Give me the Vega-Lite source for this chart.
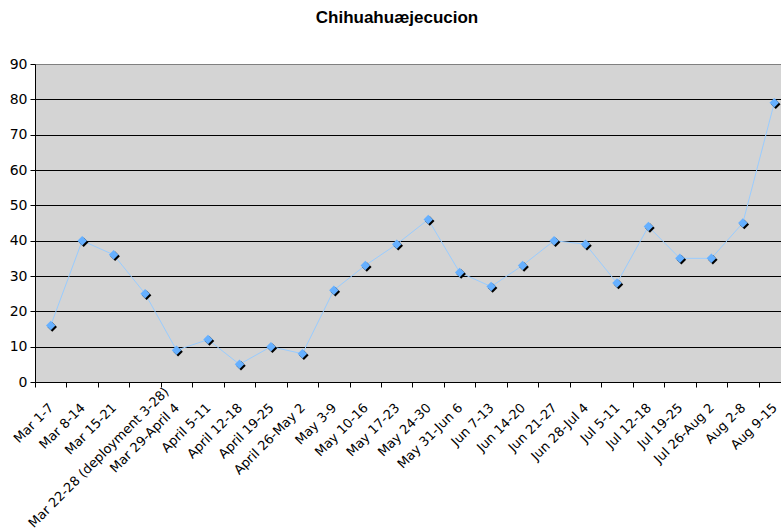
{
  "$schema": "https://vega.github.io/schema/vega-lite/v6.json",
  "width": 746,
  "height": 318,
  "autosize": {"type": "none"},
  "padding": {"left": 35, "top": 64, "right": 0, "bottom": 149},
  "background": "white",
  "title": {"text": "Chihuahuæjecucion", "font": "Liberation Sans", "fontSize": 17, "fontWeight": "bold", "baseline": "alphabetic", "frame": "group", "anchor": "middle", "offset": 17, "dx": -11, "color": "black"},
  "config": {"view": {"fill": "#d4d4d4", "stroke": null}},
  "data": {"values": [
    {"week": "Mar 1-7", "value": 16},
    {"week": "Mar 8-14", "value": 40},
    {"week": "Mar 15-21", "value": 36},
    {"week": "Mar 22-28 (deployment 3-28)", "value": 25},
    {"week": "Mar 29-April 4", "value": 9},
    {"week": "April 5-11", "value": 12},
    {"week": "April 12-18", "value": 5},
    {"week": "April 19-25", "value": 10},
    {"week": "April 26-May 2", "value": 8},
    {"week": "May 3-9", "value": 26},
    {"week": "May 10-16", "value": 33},
    {"week": "May 17-23", "value": 39},
    {"week": "May 24-30", "value": 46},
    {"week": "May 31-Jun 6", "value": 31},
    {"week": "Jun 7-13", "value": 27},
    {"week": "Jun 14-20", "value": 33},
    {"week": "Jun 21-27", "value": 40},
    {"week": "Jun 28-Jul 4", "value": 39},
    {"week": "Jul 5-11", "value": 28},
    {"week": "Jul 12-18", "value": 44},
    {"week": "Jul 19-25", "value": 35},
    {"week": "Jul 26-Aug 2", "value": 35},
    {"week": "Aug 2-8", "value": 45},
    {"week": "Aug 9-15", "value": 79}
  ]},
  "encoding": {
    "x": {"field": "week", "type": "nominal", "sort": null,
      "scale": {"type": "band", "range": [0, 755], "paddingInner": 0, "paddingOuter": 0},
      "axis": {"title": null, "labelAngle": -45, "labelFont": "DejaVu Sans", "labelFontSize": 13, "labelColor": "black", "labelLimit": 0, "labelOverlap": false, "tickBand": "extent", "tickColor": "black", "tickSize": 5, "domainColor": "black", "grid": false,
        "labelPadding": {"condition": {"test": "indexof(datum.label, 'deployment') >= 0", "value": -2}, "value": 14},
        "labelOffset": {"condition": {"test": "indexof(datum.label, 'deployment') >= 0", "value": 17}, "value": -4}}},
    "y": {"field": "value", "type": "quantitative",
      "scale": {"domain": [0, 90], "nice": false},
      "axis": {"title": null, "values": [0, 10, 20, 30, 40, 50, 60, 70, 80, 90], "grid": true,
        "gridColor": {"condition": {"test": "datum.value === 90", "value": "#808080"}, "value": "black"},
        "gridOpacity": 1, "domainColor": "black", "tickColor": "black", "tickSize": 5, "labelFont": "DejaVu Sans", "labelFontSize": 14, "labelColor": "black", "labelPadding": 3}}
  },
  "layer": [
    {"mark": {"type": "line", "color": "#99ccff", "strokeWidth": 1}},
    {"mark": {"type": "point", "shape": "diamond", "filled": true, "color": "black", "opacity": 1, "size": 90, "xOffset": 1.5, "yOffset": 1.5}},
    {"mark": {"type": "point", "shape": "diamond", "filled": true, "color": "#66b0ff", "opacity": 1, "size": 90}}
  ]
}
